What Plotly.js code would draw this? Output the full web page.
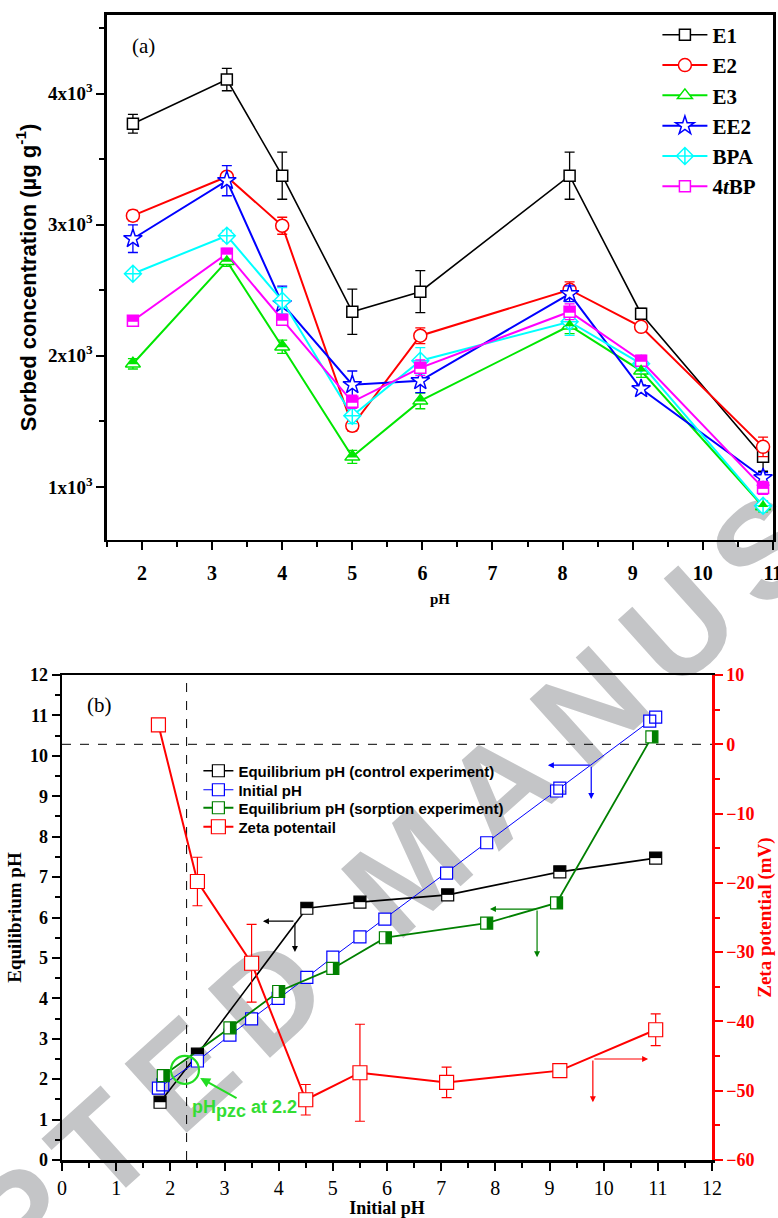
<!DOCTYPE html>
<html><head><meta charset="utf-8">
<script src="https://cdn.plot.ly/plotly-3.0.1.min.js"></script>
<style>
html,body{margin:0;padding:0;background:#fff;}
#wrap{position:relative;width:778px;height:1218px;overflow:hidden;}
#wm{position:absolute;left:418px;top:862px;transform:translate(-50%,-50%) rotate(-42deg);font-family:'Liberation Sans',Arial,sans-serif;font-weight:bold;font-size:135px;letter-spacing:22px;color:#c4c5c7;white-space:nowrap;z-index:0;}
#chart{position:absolute;left:0;top:0;width:778px;height:1218px;z-index:1;}
</style></head><body>
<div id="wrap"><div id="wm">ACCEPTED MANUSCRIPT</div><div id="chart"></div></div>
<script>
// ---------- Panel (a) data ----------
const pHa = [1.87, 3.21, 4.0, 5.0, 5.97, 8.1, 9.12, 10.86];
const E1 = [3770, 4107, 3374, 2336, 2489, 3374, 2321, 1229];
const E1err = [72, 85, 180, 172, 160, 180, 40, 110];
const E2 = [3069, 3366, 2992, 1466, 2153, 2504, 2221, 1305];
const E2err = [40, 30, 65, 40, 60, 60, 30, 75];
const E3 = [1939, 2722, 2069, 1229, 1656, 2229, 1885, 850];
const E3err = [40, 40, 50, 50, 60, 60, 50, 40];
const EE2 = [2893, 3336, 2397, 1779, 1809, 2473, 1748, 1069];
const EE2err = [105, 115, 135, 105, 90, 60, 30, 40];
const BPA = [2626, 2916, 2420, 1542, 1962, 2260, 1939, 855];
const BPAerr = [20, 40, 100, 60, 100, 105, 30, 40];
const T4BP = [2267, 2779, 2275, 1649, 1908, 2336, 1962, 992];
const T4BPerr = [30, 40, 30, 50, 60, 60, 40, 50];
const yTickValsA = [1000, 2000, 3000, 4000];
const yTickTextA = ['1x10<sup>3</sup>', '2x10<sup>3</sup>', '3x10<sup>3</sup>', '4x10<sup>3</sup>'];

// ---------- Panel (b) data ----------
const ctrlX = [1.81, 2.5, 4.52, 5.5, 7.12, 9.19, 10.96];
const ctrlY = [1.43, 2.62, 6.23, 6.38, 6.56, 7.13, 7.47];
const initX = [1.78, 2.5, 3.1, 3.5, 3.99, 4.52, 5.0, 5.5, 5.96, 7.1, 7.84, 9.13, 10.85];
const initY = [1.78, 2.45, 3.09, 3.49, 4.0, 4.52, 5.02, 5.52, 5.96, 7.1, 7.85, 9.13, 10.86];
const initDupX = [1.86, 9.19, 10.96];
const initDupY = [1.86, 9.2, 10.96];
const sorpX = [1.87, 3.1, 4.0, 5.0, 5.97, 7.84, 9.13, 10.89];
const sorpY = [2.09, 3.27, 4.17, 4.74, 5.5, 5.86, 6.36, 10.47];
const zetaX = [1.78, 2.5, 3.5, 4.5, 5.5, 7.1, 9.19, 10.96];
const zeta = [2.8, -19.8, -31.6, -51.3, -47.4, -48.8, -47.1, -41.2];
const zetaErr = [0.5, 3.5, 5.6, 2.2, 7.0, 2.2, 0.6, 2.3];
const pzcLineX = 2.3;
const pzcPoint = [2.27, 2.23];

const serif = 'Liberation Serif';
const sans = 'Liberation Sans';

function seriesA(name, y, err, color, symbol, size, lw) {
  return {
    x: pHa, y: y, name: name, mode: 'lines+markers', xaxis: 'x', yaxis: 'y', legend: 'legend',
    line: {color: color, width: lw},
    marker: {symbol: symbol, size: size, color: 'white', line: {color: color, width: 1.5}},
    error_y: {type: 'data', array: err, color: color, thickness: 1.3, width: 5}
  };
}

const traces = [
  seriesA('E1', E1, E1err, '#000000', 'square', 11, 1.6),
  seriesA('E2', E2, E2err, '#ff0000', 'circle', 13, 2),
  seriesA('E3', E3, E3err, '#00e600', 'triangle-up', 13, 2),
  seriesA('EE2', EE2, EE2err, '#0000ff', 'star', 14, 2),
  seriesA('BPA', BPA, BPAerr, '#00ffff', 'diamond-cross', 13, 2),
  seriesA('4<i>t</i>BP', T4BP, T4BPerr, '#ff00ff', 'square', 11, 2),
  {x: ctrlX, y: ctrlY, name: 'Equilibrium pH (control experiment)', mode: 'lines+markers', xaxis: 'x2', yaxis: 'y2', legend: 'legend2',
   line: {color: '#000000', width: 1.6}, marker: {symbol: 'square', size: 12, color: 'white', line: {color: '#000000', width: 1.2}}},
  {x: initX, y: initY, name: 'Initial pH', mode: 'lines+markers', xaxis: 'x2', yaxis: 'y2', legend: 'legend3',
   line: {color: '#0000ff', width: 1}, marker: {symbol: 'square', size: 12, color: 'white', line: {color: '#0000ff', width: 1.2}}},
  {x: initDupX, y: initDupY, name: 'Initial pH dup', mode: 'markers', xaxis: 'x2', yaxis: 'y2', showlegend: false,
   marker: {symbol: 'square-open', size: 12, color: '#0000ff', line: {color: '#0000ff', width: 1.2}}},
  {x: sorpX, y: sorpY, name: 'Equilibrium pH (sorption experiment)', mode: 'lines+markers', xaxis: 'x2', yaxis: 'y2', legend: 'legend4',
   line: {color: '#008000', width: 1.8}, marker: {symbol: 'square', size: 12, color: 'white', line: {color: '#008000', width: 1.2}}},
  {x: zetaX, y: zeta, name: 'Zeta potentail', mode: 'lines+markers', xaxis: 'x2', yaxis: 'y3', legend: 'legend5',
   line: {color: '#ff0000', width: 2}, marker: {symbol: 'square', size: 14, color: 'white', line: {color: '#ff0000', width: 1.2}},
   error_y: {type: 'data', array: zetaErr, color: '#ff0000', thickness: 1.2, width: 5}}
];

// half-filled marker shapes built from the data arrays
const shapes = [];
function halfShape(xref, yref, xv, yv, color, path) {
  return {type: 'path', xref: xref, yref: yref, xsizemode: 'pixel', ysizemode: 'pixel',
          xanchor: xv, yanchor: yv, path: path, fillcolor: color, line: {width: 0}, layer: 'above'};
}
pHa.forEach((xv, i) => shapes.push(halfShape('x', 'y', xv, E3[i], '#00e600', 'M0,6.5 L5.2,-0.6 L-5.2,-0.6 Z')));
pHa.forEach((xv, i) => shapes.push(halfShape('x', 'y', xv, T4BP[i], '#ff00ff', 'M-5.5,-1 L5.5,-1 L5.5,5.5 L-5.5,5.5 Z')));
ctrlX.forEach((xv, i) => shapes.push(halfShape('x2', 'y2', xv, ctrlY[i], '#000000', 'M-6,0 L6,0 L6,6 L-6,6 Z')));
sorpX.forEach((xv, i) => shapes.push(halfShape('x2', 'y2', xv, sorpY[i], '#008000', 'M0,-6 L6,-6 L6,6 L0,6 Z')));
shapes.push({type: 'line', xref: 'x2', yref: 'y2 domain', x0: pzcLineX, x1: pzcLineX, y0: 0, y1: 1, line: {color: '#000', width: 1, dash: 'dash'}, layer: 'below'});
shapes.push({type: 'line', xref: 'x2 domain', yref: 'y3', x0: 0, x1: 1, y0: 0, y1: 0, line: {color: '#000', width: 1, dash: 'dash'}, layer: 'below'});
shapes.push({type: 'circle', xref: 'x2', yref: 'y2', xsizemode: 'pixel', ysizemode: 'pixel', xanchor: pzcPoint[0], yanchor: pzcPoint[1],
             x0: -14, x1: 14, y0: -14, y1: 14, line: {color: '#22dd22', width: 2.2}, layer: 'above'});

// axis indicator arrows: [junctionX, junctionY, headX, headY, color]
const arrowDefs = [
  [4.30, 5.91, 3.71, 5.91, '#000000'], [4.30, 5.91, 4.30, 5.15, '#000000'],
  [8.77, 6.21, 7.90, 6.21, '#008000'], [8.77, 6.21, 8.77, 5.02, '#008000'],
  [9.77, 9.77, 8.97, 9.77, '#0000ff'], [9.77, 9.77, 9.77, 8.93, '#0000ff'],
  [9.80, 2.50, 10.82, 2.50, '#ff0000'], [9.80, 2.50, 9.80, 1.43, '#ff0000'],
  [3.25, 1.51, 2.55, 2.03, '#22dd22']
];
const annotations = arrowDefs.map(d => ({
  x: d[2], y: d[3], ax: d[0], ay: d[1], xref: 'x2', yref: 'y2', axref: 'x2', ayref: 'y2',
  showarrow: true, arrowhead: 2, arrowsize: 1, arrowwidth: d[4] === '#22dd22' ? 2 : 1.2, arrowcolor: d[4], text: ''
}));
annotations.push({text: '(a)', xref: 'paper', yref: 'paper', x: 0.185, y: 0.962, xanchor: 'center', yanchor: 'middle', showarrow: false,
  font: {family: serif, size: 21, color: '#000'}});
annotations.push({text: '(b)', xref: 'paper', yref: 'paper', x: 0.1285, y: 0.4212, xanchor: 'center', yanchor: 'middle', showarrow: false,
  font: {family: serif, size: 21, color: '#000'}});
annotations.push({text: 'pH<sub><span style="font-size:18px">pzc</span></sub> at 2.2', xref: 'x2', yref: 'y2', x: 3.36, y: 1.27, xanchor: 'center', yanchor: 'middle', showarrow: false,
  font: {family: sans, size: 18, weight: 'bold', color: '#33dd33'}});

const axBase = {showgrid: false, zeroline: false, showline: true, linecolor: '#000', linewidth: 2.5,
  ticks: 'outside', ticklen: 8, tickwidth: 2, tickcolor: '#000', ticklabeloverflow: 'allow'};

function legendAt(rowPx) {
  return {x: 0.255, y: (1218 - rowPx) / 1218, xanchor: 'left', yanchor: 'middle', bgcolor: 'rgba(0,0,0,0)', itemwidth: 30,
    font: {family: sans, size: 15, weight: 'bold', color: '#000'}};
}

const layout = {
  width: 778, height: 1218, margin: {l: 0, r: 0, t: 0, b: 0},
  paper_bgcolor: 'rgba(0,0,0,0)', plot_bgcolor: 'rgba(0,0,0,0)',
  xaxis: Object.assign({}, axBase, {domain: [0.1375, 0.9936], anchor: 'y', range: [1.5, 11.002], tickmode: 'linear', tick0: 0, dtick: 1, mirror: true,
    minor: {tick0: 0, dtick: 0.5, ticks: 'outside', ticklen: 5, tickwidth: 2, tickcolor: '#000'},
    ticklabelstandoff: 6,
    tickfont: {family: serif, size: 20, weight: 'bold', color: '#000'},
    title: {text: 'pH', font: {family: serif, size: 15, weight: 'bold', color: '#000'}, standoff: 10}}),
  yaxis: Object.assign({}, axBase, {domain: [0.5567, 0.9877], anchor: 'x', range: [595, 4600], tickmode: 'array', tickvals: yTickValsA, ticktext: yTickTextA, mirror: true,
    minor: {tick0: 0, dtick: 500, ticks: 'outside', ticklen: 5, tickwidth: 2, tickcolor: '#000'},
    tickfont: {family: serif, size: 19, weight: 'bold', color: '#000'},
    title: {text: 'Sorbed concentration (\u00b5g g<sup>-1</sup>)', font: {family: sans, size: 22, weight: 'bold', color: '#000'}, standoff: 6}}),
  xaxis2: Object.assign({}, axBase, {domain: [0.0797, 0.9152], anchor: 'y2', range: [0, 12], tickmode: 'linear', tick0: 0, dtick: 1, mirror: true,
    minor: {tick0: 0, dtick: 0.5, ticks: 'outside', ticklen: 5, tickwidth: 2, tickcolor: '#000'},
    tickfont: {family: serif, size: 20, color: '#000'},
    title: {text: 'Initial pH', font: {family: serif, size: 18, weight: 'bold', color: '#000'}, standoff: 2}}),
  yaxis2: Object.assign({}, axBase, {domain: [0.0476, 0.4458], anchor: 'x2', range: [0, 12], tickmode: 'linear', tick0: 0, dtick: 1,
    minor: {tick0: 0, dtick: 0.5, ticks: 'outside', ticklen: 5, tickwidth: 2, tickcolor: '#000'},
    tickfont: {family: serif, size: 18, weight: 'bold', color: '#000'},
    title: {text: 'Equilibrium pH', font: {family: serif, size: 19, weight: 'bold', color: '#000'}, standoff: 4}}),
  yaxis3: Object.assign({}, axBase, {overlaying: 'y2', anchor: 'x2', side: 'right', range: [-60, 10], tickmode: 'linear', tick0: 0, dtick: 10,
    linecolor: '#ff0000', tickcolor: '#ff0000',
    minor: {tick0: 0, dtick: 5, ticks: 'outside', ticklen: 5, tickwidth: 2, tickcolor: '#ff0000'},
    tickfont: {family: serif, size: 18, weight: 'bold', color: '#ff0000'},
    title: {text: 'Zeta potential (mV)', font: {family: serif, size: 19, weight: 'bold', color: '#ff0000'}, standoff: 4}}),
  legend: {x: 0.845, y: 0.988, xanchor: 'left', yanchor: 'top', bgcolor: 'rgba(0,0,0,0)', itemwidth: 45, tracegroupgap: 0,
    font: {family: serif, size: 21, weight: 'bold', color: '#000'}},
  legend2: legendAt(771), legend3: legendAt(790), legend4: legendAt(808), legend5: legendAt(827),
  shapes: shapes, annotations: annotations, showlegend: true
};

Plotly.newPlot('chart', traces, layout, {displayModeBar: false, staticPlot: true});
</script></body></html>
